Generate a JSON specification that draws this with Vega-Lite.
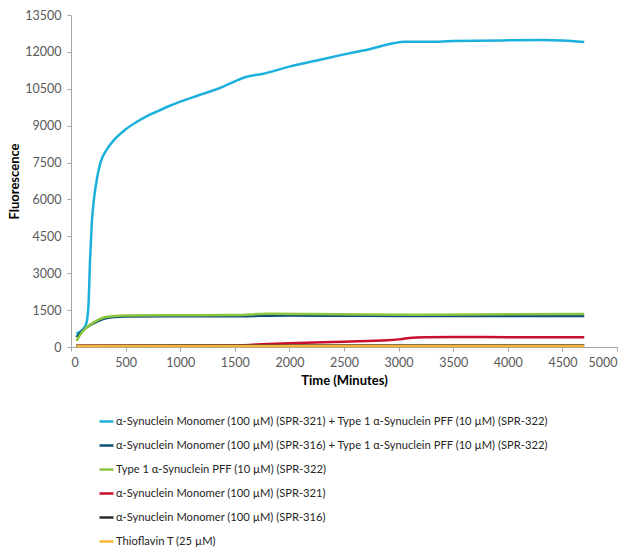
{
  "$schema": "https://vega.github.io/schema/vega-lite/v6.json",
  "width": 546,
  "height": 332,
  "autosize": {"type": "none"},
  "padding": {"left": 71, "top": 15, "right": 13, "bottom": 206},
  "background": "white",
  "config": {"view": {"stroke": null}, "font": "Lato"},
  "data": {"values": [
    {"s":"α-Synuclein Monomer (100 µM) (SPR-321) + Type 1 α-Synuclein PFF (10 µM) (SPR-322)","t":50,"v":550},
    {"s":"α-Synuclein Monomer (100 µM) (SPR-321) + Type 1 α-Synuclein PFF (10 µM) (SPR-322)","t":100,"v":680},
    {"s":"α-Synuclein Monomer (100 µM) (SPR-321) + Type 1 α-Synuclein PFF (10 µM) (SPR-322)","t":140,"v":950},
    {"s":"α-Synuclein Monomer (100 µM) (SPR-321) + Type 1 α-Synuclein PFF (10 µM) (SPR-322)","t":160,"v":1700},
    {"s":"α-Synuclein Monomer (100 µM) (SPR-321) + Type 1 α-Synuclein PFF (10 µM) (SPR-322)","t":175,"v":3600},
    {"s":"α-Synuclein Monomer (100 µM) (SPR-321) + Type 1 α-Synuclein PFF (10 µM) (SPR-322)","t":190,"v":5000},
    {"s":"α-Synuclein Monomer (100 µM) (SPR-321) + Type 1 α-Synuclein PFF (10 µM) (SPR-322)","t":210,"v":6000},
    {"s":"α-Synuclein Monomer (100 µM) (SPR-321) + Type 1 α-Synuclein PFF (10 µM) (SPR-322)","t":240,"v":6900},
    {"s":"α-Synuclein Monomer (100 µM) (SPR-321) + Type 1 α-Synuclein PFF (10 µM) (SPR-322)","t":270,"v":7500},
    {"s":"α-Synuclein Monomer (100 µM) (SPR-321) + Type 1 α-Synuclein PFF (10 µM) (SPR-322)","t":330,"v":8050},
    {"s":"α-Synuclein Monomer (100 µM) (SPR-321) + Type 1 α-Synuclein PFF (10 µM) (SPR-322)","t":400,"v":8450},
    {"s":"α-Synuclein Monomer (100 µM) (SPR-321) + Type 1 α-Synuclein PFF (10 µM) (SPR-322)","t":500,"v":8850},
    {"s":"α-Synuclein Monomer (100 µM) (SPR-321) + Type 1 α-Synuclein PFF (10 µM) (SPR-322)","t":600,"v":9150},
    {"s":"α-Synuclein Monomer (100 µM) (SPR-321) + Type 1 α-Synuclein PFF (10 µM) (SPR-322)","t":700,"v":9400},
    {"s":"α-Synuclein Monomer (100 µM) (SPR-321) + Type 1 α-Synuclein PFF (10 µM) (SPR-322)","t":800,"v":9600},
    {"s":"α-Synuclein Monomer (100 µM) (SPR-321) + Type 1 α-Synuclein PFF (10 µM) (SPR-322)","t":900,"v":9800},
    {"s":"α-Synuclein Monomer (100 µM) (SPR-321) + Type 1 α-Synuclein PFF (10 µM) (SPR-322)","t":1000,"v":9980},
    {"s":"α-Synuclein Monomer (100 µM) (SPR-321) + Type 1 α-Synuclein PFF (10 µM) (SPR-322)","t":1100,"v":10130},
    {"s":"α-Synuclein Monomer (100 µM) (SPR-321) + Type 1 α-Synuclein PFF (10 µM) (SPR-322)","t":1200,"v":10280},
    {"s":"α-Synuclein Monomer (100 µM) (SPR-321) + Type 1 α-Synuclein PFF (10 µM) (SPR-322)","t":1300,"v":10430},
    {"s":"α-Synuclein Monomer (100 µM) (SPR-321) + Type 1 α-Synuclein PFF (10 µM) (SPR-322)","t":1400,"v":10600},
    {"s":"α-Synuclein Monomer (100 µM) (SPR-321) + Type 1 α-Synuclein PFF (10 µM) (SPR-322)","t":1500,"v":10800},
    {"s":"α-Synuclein Monomer (100 µM) (SPR-321) + Type 1 α-Synuclein PFF (10 µM) (SPR-322)","t":1600,"v":10980},
    {"s":"α-Synuclein Monomer (100 µM) (SPR-321) + Type 1 α-Synuclein PFF (10 µM) (SPR-322)","t":1750,"v":11100},
    {"s":"α-Synuclein Monomer (100 µM) (SPR-321) + Type 1 α-Synuclein PFF (10 µM) (SPR-322)","t":2000,"v":11400},
    {"s":"α-Synuclein Monomer (100 µM) (SPR-321) + Type 1 α-Synuclein PFF (10 µM) (SPR-322)","t":2250,"v":11650},
    {"s":"α-Synuclein Monomer (100 µM) (SPR-321) + Type 1 α-Synuclein PFF (10 µM) (SPR-322)","t":2500,"v":11900},
    {"s":"α-Synuclein Monomer (100 µM) (SPR-321) + Type 1 α-Synuclein PFF (10 µM) (SPR-322)","t":2750,"v":12130},
    {"s":"α-Synuclein Monomer (100 µM) (SPR-321) + Type 1 α-Synuclein PFF (10 µM) (SPR-322)","t":2950,"v":12350},
    {"s":"α-Synuclein Monomer (100 µM) (SPR-321) + Type 1 α-Synuclein PFF (10 µM) (SPR-322)","t":3050,"v":12410},
    {"s":"α-Synuclein Monomer (100 µM) (SPR-321) + Type 1 α-Synuclein PFF (10 µM) (SPR-322)","t":3250,"v":12410},
    {"s":"α-Synuclein Monomer (100 µM) (SPR-321) + Type 1 α-Synuclein PFF (10 µM) (SPR-322)","t":3500,"v":12440},
    {"s":"α-Synuclein Monomer (100 µM) (SPR-321) + Type 1 α-Synuclein PFF (10 µM) (SPR-322)","t":4000,"v":12470},
    {"s":"α-Synuclein Monomer (100 µM) (SPR-321) + Type 1 α-Synuclein PFF (10 µM) (SPR-322)","t":4300,"v":12480},
    {"s":"α-Synuclein Monomer (100 µM) (SPR-321) + Type 1 α-Synuclein PFF (10 µM) (SPR-322)","t":4500,"v":12460},
    {"s":"α-Synuclein Monomer (100 µM) (SPR-321) + Type 1 α-Synuclein PFF (10 µM) (SPR-322)","t":4700,"v":12400},
    {"s":"α-Synuclein Monomer (100 µM) (SPR-316) + Type 1 α-Synuclein PFF (10 µM) (SPR-322)","t":50,"v":400},
    {"s":"α-Synuclein Monomer (100 µM) (SPR-316) + Type 1 α-Synuclein PFF (10 µM) (SPR-322)","t":100,"v":640},
    {"s":"α-Synuclein Monomer (100 µM) (SPR-316) + Type 1 α-Synuclein PFF (10 µM) (SPR-322)","t":200,"v":950},
    {"s":"α-Synuclein Monomer (100 µM) (SPR-316) + Type 1 α-Synuclein PFF (10 µM) (SPR-322)","t":300,"v":1150},
    {"s":"α-Synuclein Monomer (100 µM) (SPR-316) + Type 1 α-Synuclein PFF (10 µM) (SPR-322)","t":400,"v":1220},
    {"s":"α-Synuclein Monomer (100 µM) (SPR-316) + Type 1 α-Synuclein PFF (10 µM) (SPR-322)","t":500,"v":1240},
    {"s":"α-Synuclein Monomer (100 µM) (SPR-316) + Type 1 α-Synuclein PFF (10 µM) (SPR-322)","t":1000,"v":1250},
    {"s":"α-Synuclein Monomer (100 µM) (SPR-316) + Type 1 α-Synuclein PFF (10 µM) (SPR-322)","t":1500,"v":1255},
    {"s":"α-Synuclein Monomer (100 µM) (SPR-316) + Type 1 α-Synuclein PFF (10 µM) (SPR-322)","t":2000,"v":1280},
    {"s":"α-Synuclein Monomer (100 µM) (SPR-316) + Type 1 α-Synuclein PFF (10 µM) (SPR-322)","t":2500,"v":1270},
    {"s":"α-Synuclein Monomer (100 µM) (SPR-316) + Type 1 α-Synuclein PFF (10 µM) (SPR-322)","t":3000,"v":1260},
    {"s":"α-Synuclein Monomer (100 µM) (SPR-316) + Type 1 α-Synuclein PFF (10 µM) (SPR-322)","t":3500,"v":1265},
    {"s":"α-Synuclein Monomer (100 µM) (SPR-316) + Type 1 α-Synuclein PFF (10 µM) (SPR-322)","t":4000,"v":1265},
    {"s":"α-Synuclein Monomer (100 µM) (SPR-316) + Type 1 α-Synuclein PFF (10 µM) (SPR-322)","t":4700,"v":1265},
    {"s":"Type 1 α-Synuclein PFF (10 µM) (SPR-322)","t":50,"v":250},
    {"s":"Type 1 α-Synuclein PFF (10 µM) (SPR-322)","t":100,"v":600},
    {"s":"Type 1 α-Synuclein PFF (10 µM) (SPR-322)","t":200,"v":980},
    {"s":"Type 1 α-Synuclein PFF (10 µM) (SPR-322)","t":300,"v":1200},
    {"s":"Type 1 α-Synuclein PFF (10 µM) (SPR-322)","t":400,"v":1260},
    {"s":"Type 1 α-Synuclein PFF (10 µM) (SPR-322)","t":500,"v":1280},
    {"s":"Type 1 α-Synuclein PFF (10 µM) (SPR-322)","t":1000,"v":1290},
    {"s":"Type 1 α-Synuclein PFF (10 µM) (SPR-322)","t":1500,"v":1300},
    {"s":"Type 1 α-Synuclein PFF (10 µM) (SPR-322)","t":1800,"v":1350},
    {"s":"Type 1 α-Synuclein PFF (10 µM) (SPR-322)","t":2200,"v":1340},
    {"s":"Type 1 α-Synuclein PFF (10 µM) (SPR-322)","t":2700,"v":1320},
    {"s":"Type 1 α-Synuclein PFF (10 µM) (SPR-322)","t":3200,"v":1315},
    {"s":"Type 1 α-Synuclein PFF (10 µM) (SPR-322)","t":4000,"v":1330},
    {"s":"Type 1 α-Synuclein PFF (10 µM) (SPR-322)","t":4700,"v":1340},
    {"s":"α-Synuclein Monomer (100 µM) (SPR-321)","t":50,"v":50},
    {"s":"α-Synuclein Monomer (100 µM) (SPR-321)","t":1000,"v":55},
    {"s":"α-Synuclein Monomer (100 µM) (SPR-321)","t":1500,"v":65},
    {"s":"α-Synuclein Monomer (100 µM) (SPR-321)","t":1700,"v":100},
    {"s":"α-Synuclein Monomer (100 µM) (SPR-321)","t":2000,"v":150},
    {"s":"α-Synuclein Monomer (100 µM) (SPR-321)","t":2500,"v":215},
    {"s":"α-Synuclein Monomer (100 µM) (SPR-321)","t":2900,"v":270},
    {"s":"α-Synuclein Monomer (100 µM) (SPR-321)","t":3000,"v":310},
    {"s":"α-Synuclein Monomer (100 µM) (SPR-321)","t":3100,"v":370},
    {"s":"α-Synuclein Monomer (100 µM) (SPR-321)","t":3250,"v":400},
    {"s":"α-Synuclein Monomer (100 µM) (SPR-321)","t":3500,"v":410},
    {"s":"α-Synuclein Monomer (100 µM) (SPR-321)","t":4000,"v":400},
    {"s":"α-Synuclein Monomer (100 µM) (SPR-321)","t":4700,"v":395},
    {"s":"α-Synuclein Monomer (100 µM) (SPR-316)","t":50,"v":55},
    {"s":"α-Synuclein Monomer (100 µM) (SPR-316)","t":1000,"v":60},
    {"s":"α-Synuclein Monomer (100 µM) (SPR-316)","t":2000,"v":60},
    {"s":"α-Synuclein Monomer (100 µM) (SPR-316)","t":3000,"v":62},
    {"s":"α-Synuclein Monomer (100 µM) (SPR-316)","t":4000,"v":62},
    {"s":"α-Synuclein Monomer (100 µM) (SPR-316)","t":4700,"v":62},
    {"s":"Thioflavin T (25 µM)","t":50,"v":40},
    {"s":"Thioflavin T (25 µM)","t":1000,"v":40},
    {"s":"Thioflavin T (25 µM)","t":2000,"v":40},
    {"s":"Thioflavin T (25 µM)","t":3000,"v":40},
    {"s":"Thioflavin T (25 µM)","t":4000,"v":40},
    {"s":"Thioflavin T (25 µM)","t":4700,"v":40}
  ]},
  "mark": {"type": "line", "interpolate": "monotone", "strokeWidth": 2.5},
  "encoding": {
    "x": {"field": "t", "type": "quantitative",
      "scale": {"domain": [0, 5000], "nice": false},
      "axis": {"title": "Time (Minutes)", "values": [0,500,1000,1500,2000,2500,3000,3500,4000,4500,5000], "format": "d",
        "grid": false, "domainColor": "#a6a6a6", "tickColor": "#a6a6a6", "tickSize": 4,
        "labelColor": "#595959", "labelFontSize": 12.5, "labelPadding": 5, "labelFont": "Lato",
        "titleFontSize": 13, "titleFontWeight": "bold", "titleColor": "#000000", "titlePadding": 6, "titleFont": "Lato"}},
    "y": {"field": "v", "type": "quantitative",
      "scale": {"domain": [0, 13500], "nice": false},
      "axis": {"title": "Fluorescence", "values": [0,1500,3000,4500,6000,7500,9000,10500,12000,13500], "format": "d",
        "grid": false, "domainColor": "#a6a6a6", "tickColor": "#a6a6a6", "tickSize": 4,
        "labelColor": "#595959", "labelFontSize": 12.5, "labelPadding": 6, "labelFont": "Lato",
        "titleFontSize": 13, "titleFontWeight": "bold", "titleColor": "#000000", "titlePadding": 3, "titleFont": "Lato"}},
    "color": {"field": "s", "type": "nominal",
      "scale": {
        "domain": [
          "α-Synuclein Monomer (100 µM) (SPR-321) + Type 1 α-Synuclein PFF (10 µM) (SPR-322)",
          "α-Synuclein Monomer (100 µM) (SPR-316) + Type 1 α-Synuclein PFF (10 µM) (SPR-322)",
          "Type 1 α-Synuclein PFF (10 µM) (SPR-322)",
          "α-Synuclein Monomer (100 µM) (SPR-321)",
          "α-Synuclein Monomer (100 µM) (SPR-316)",
          "Thioflavin T (25 µM)"],
        "range": ["#1cb1dc", "#0d4f7c", "#8cc63f", "#c8102e", "#2b2b2b", "#f7b531"]},
      "legend": {"title": null, "orient": "none", "legendX": 27, "legendY": 398,
        "direction": "vertical", "symbolType": "stroke", "symbolSize": 196, "symbolStrokeWidth": 2.5,
        "labelFontSize": 11.2, "labelColor": "#262626", "labelFont": "Lato", "labelOffset": 1,
        "labelLimit": 600, "rowPadding": 10}}
  }
}
